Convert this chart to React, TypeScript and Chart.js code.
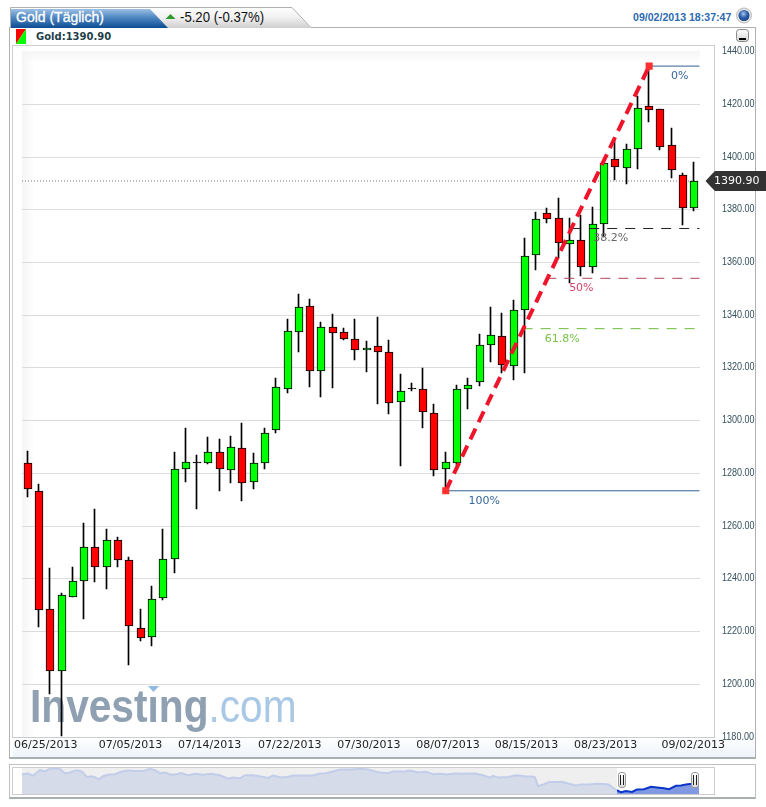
import React, { useEffect, useRef } from "react";
import { Chart, registerables } from "chart.js";

Chart.register(...registerables);

// Daily candles
const opens = [1283.8,1273.2,1228.4,1204.9,1233,1239,1251.9,1244.3,1254.6,1247,1221.2,1217.8,1232.6,1247.4,1281.5,1284.5,1283.8,1288.3,1281.1,1289.5,1276.6,1283.8,1296.6,1312.2,1333.8,1343.4,1318.7,1335.4,1333.5,1330.8,1326.7,1328.2,1325.9,1306.9,1312.3,1311.9,1302.8,1281.5,1283.8,1312.2,1314.5,1328.6,1332,1320.7,1341.8,1362.7,1378.9,1376.7,1366.9,1368.4,1358.2,1374.5,1399.1,1395.7,1402.9,1419.2,1418.1,1404.4,1393,1380.5];
const closes = [1273.9,1228,1204.9,1233.7,1239,1251.9,1244.3,1254.6,1247,1222,1217.4,1232.2,1247.4,1281.5,1284.2,1284.1,1288.3,1281.5,1289.9,1276.2,1283.8,1295.2,1312.6,1333.9,1343,1318.7,1335.4,1333.1,1331.1,1326.7,1327.4,1325.9,1306.6,1311.1,1311.9,1303.1,1281.1,1284.2,1311.9,1313.4,1328.6,1332.4,1321,1341.8,1362.3,1376.4,1376.4,1367.3,1368.4,1358.2,1374.5,1397.6,1396.1,1402.9,1418.5,1417.7,1404,1395,1380.5,1390.9];
const highs = [1288.6,1276,1244.1,1234.7,1244.5,1261,1266.5,1259,1256,1248.2,1228.5,1237.1,1258.8,1288.1,1297.1,1287,1293.7,1292.9,1294.2,1299.3,1287.6,1297.1,1316,1338.4,1347.9,1346.1,1337.5,1340.3,1335.3,1338.4,1330.3,1339.2,1330.5,1317.7,1314.4,1319.8,1306.2,1288.3,1313.6,1316,1333,1343,1340.7,1345.9,1369.2,1379,1380.7,1384.5,1376.7,1378,1381.2,1397.6,1407.1,1404.8,1423.3,1434.5,1418.1,1411.1,1393.8,1398];
const lows = [1271.1,1221.6,1196.5,1180.5,1233,1224.9,1238.9,1236.1,1244.5,1207.4,1216.5,1214.6,1232,1242.4,1276.8,1266.6,1283.5,1273.4,1276.2,1269.6,1274.1,1281.5,1295.4,1310.6,1326.2,1312.9,1308.8,1312.5,1330.6,1323.2,1318.4,1306.2,1302.6,1282.8,1311.1,1297.3,1279,1273.4,1283,1304.5,1313,1322.4,1318.2,1315.4,1318.2,1357.1,1375.1,1361.6,1352.1,1354.9,1356.1,1369.8,1391.3,1389.6,1395.5,1413.4,1402.7,1392.2,1374.2,1379.6];

const dateLabels = ["06/25/2013","07/05/2013","07/14/2013","07/22/2013","07/30/2013","08/07/2013","08/15/2013","08/23/2013","09/02/2013"];
const dateTickAt = [1.6,9.1,16.1,23.2,30.2,37.2,44.15,51.15,58.9];

const swingLow = 1273.4;
const swingHigh = 1434.5;
const swingLowAt = 37;
const swingHighAt = 55;
const lastPrice = 1390.9;
const fibNames = ["0%","38.2%","50%","61.8%","100%"];
const fibLevels = [1434.5,1372.9,1354,1334.9,1273.4];
const fibStarts = [55,48.1,45.9,43.8,37];
const fibNameAt = [57.7,51.6,49,47.3,40.4];

// Overview strip (long history)
const navDays = [0,6,11,14,18,23,28,33,38,43,48,53,58,61,65,69,73,77,81,86,93,99,106,113,121,128,133,138,143,148,154,159,166,173,181,189,198,206,211,218,223,231,239,246,251,258,264,271,279,291,298,304,311,318,329,338,346,356,366,371,383,388,396,404,411,419,424,433,441,453,461,468,471,476,486,493,497,504,510,513,516,522,527,534,540,547,554,559,567,574,582,587,592,595];
const navCloses = [1634,1650,1601,1658,1731,1699,1763,1772,1755,1650,1674,1723,1715,1674,1561,1585,1561,1512,1585,1618,1634,1690,1723,1707,1707,1763,1731,1658,1674,1626,1626,1658,1609,1642,1618,1642,1609,1528,1553,1537,1609,1609,1577,1545,1601,1561,1561,1601,1601,1601,1650,1658,1699,1747,1747,1763,1747,1682,1658,1699,1699,1723,1674,1690,1634,1642,1626,1650,1642,1650,1609,1553,1593,1553,1569,1601,1601,1577,1577,1561,1350,1399,1448,1448,1456,1407,1367,1391,1391,1407,1399,1383,1294,1253];
const navSelDays = [595,599,604,610,615,622,629,635,642,647,654,659,664,668,672,677];
const navSelCloses = [1253,1205,1237,1213,1269,1277,1334,1318,1302,1277,1358,1367,1391,1399,1399,1407];

const SANS = '"Liberation Sans", Arial, sans-serif';
const VERD = '"DejaVu Sans", Verdana, sans-serif';
const fibColors = ["#2f6193","#222222","#b8405c","#6cbb3c","#2f6193"];
const fibTextColors = ["#35689c","#666666","#d5456a","#79c14a","#35689c"];

const snapCandles = {
  id: "snapCandles",
  afterDatasetsUpdate(chart: any) {
    [0, 1].forEach((d) => {
      chart.getDatasetMeta(d).data.forEach((el: any) => {
        const left = Math.round(el.x - 4);
        el.x = d === 0 ? left + 3.5 : left + 4;
        el.y = Math.round(el.y);
        el.base = Math.round(el.base);
        if (el.y === el.base) el.base += 1;
      });
    });
  },
};

const watermark = {
  id: "watermark",
  beforeDatasetsDraw(chart: any) {
    const { ctx, chartArea } = chart;
    const bx = 30;
    const by = chartArea.bottom - 15;
    ctx.save();
    ctx.translate(bx, by);
    ctx.scale(0.865, 1);
    ctx.textBaseline = "alphabetic";
    ctx.textAlign = "left";
    ctx.font = `bold 47px ${SANS}`;
    ctx.fillStyle = "#8ea0b2";
    ctx.fillText("Investing", 0, 0);
    const w = ctx.measureText("Investing").width;
    ctx.font = `47px ${SANS}`;
    ctx.fillStyle = "#a9c8e6";
    ctx.fillText(".com", w, 0);
    ctx.restore();
    ctx.fillStyle = "#ffffff";
    ctx.fillRect(147, by - 36, 13, 9);
    ctx.fillStyle = "#8fbae2";
    ctx.beginPath();
    ctx.moveTo(148, by - 36);
    ctx.lineTo(159, by - 36);
    ctx.lineTo(153.5, by - 30);
    ctx.closePath();
    ctx.fill();
  },
};

const annotations = {
  id: "annotations",
  afterDraw(chart: any) {
    const { ctx, scales } = chart;
    ctx.save();
    // value axis labels, condensed
    ctx.textAlign = "left";
    ctx.textBaseline = "middle";
    ctx.font = `11px ${SANS}`;
    ctx.fillStyle = "#34505c";
    scales.y.ticks.forEach((t: any) => {
      ctx.save();
      ctx.translate(722, scales.y.getPixelForValue(t.value) - 0.5);
      ctx.scale(0.82, 1);
      ctx.fillText(Number(t.value).toFixed(2), 0, 0);
      ctx.restore();
    });
    ctx.font = `11px ${VERD}`;
    ctx.textAlign = "center";
    fibNames.forEach((name, i) => {
      ctx.fillStyle = fibTextColors[i];
      ctx.fillText(name, scales.x.getPixelForValue(fibNameAt[i]), scales.y.getPixelForValue(fibLevels[i]) + 10);
    });
    const py = Math.round(scales.y.getPixelForValue(lastPrice));
    ctx.fillStyle = "#333333";
    ctx.beginPath();
    ctx.moveTo(705.5, py);
    ctx.lineTo(712, py - 7);
    ctx.lineTo(715, py - 10);
    ctx.lineTo(766, py - 10);
    ctx.lineTo(766, py + 10);
    ctx.lineTo(715, py + 10);
    ctx.lineTo(712, py + 7);
    ctx.closePath();
    ctx.fill();
    ctx.fillStyle = "#ffffff";
    ctx.textAlign = "left";
    ctx.fillText(lastPrice.toFixed(2), 714, py + 0.5);
    ctx.restore();
  },
};

const box = (l: number, t: number, w: number, h: number, extra: any = {}) => ({
  position: "absolute", left: l, top: t, width: w, height: h, boxSizing: "border-box", ...extra,
}) as React.CSSProperties;

function Handle({ left }: { left: number }) {
  return (
    <div style={box(left, 772, 8, 16, { background: "linear-gradient(#fff,#ddd)", border: "1px solid #999", borderRadius: 3 })}>
      <div style={box(1, 2, 1, 10, { background: "#222" })} />
      <div style={box(4, 2, 1, 10, { background: "#222" })} />
    </div>
  );
}

export default function App() {
  const mainRef = useRef<HTMLCanvasElement>(null);
  const navRef = useRef<HTMLCanvasElement>(null);

  useEffect(() => {
    const idx = opens.map((_, i) => i);
    const lastX = 59.45;
    const main = new Chart(mainRef.current!, {
      type: "bar",
      plugins: [snapCandles, watermark, annotations],
      data: {
        datasets: [
          {
            label: "Range",
            data: idx.map((i) => ({ x: i, y: [lows[i], highs[i]] })),
            backgroundColor: "#000000",
            borderWidth: 0,
            barThickness: 1,
            grouped: false,
            order: 5,
          },
          {
            label: "Gold",
            data: idx.map((i) => ({ x: i, y: [opens[i], closes[i]] })),
            backgroundColor: idx.map((i) =>
              Math.abs(closes[i] - opens[i]) < 0.6 ? "#000000" : closes[i] >= opens[i] ? "#00ff00" : "#ff0000"
            ),
            borderColor: "#000000",
            borderWidth: 1,
            borderSkipped: false,
            barThickness: 8,
            grouped: false,
            order: 4,
          },
          {
            type: "line",
            label: "Last",
            data: [{ x: -0.5, y: lastPrice }, { x: lastX, y: lastPrice }],
            borderColor: "#777777",
            borderWidth: 1,
            borderDash: [1, 2],
            pointRadius: 0,
            order: 6,
          },
          ...fibNames.map((name, i) => ({
            type: "line",
            label: name,
            data: [{ x: fibStarts[i], y: fibLevels[i] }, { x: lastX, y: fibLevels[i] }],
            borderColor: fibColors[i],
            borderWidth: 1,
            borderDash: i === 0 || i === 4 ? [] : [10, 8],
            pointRadius: 0,
            order: 3,
          })),
          {
            type: "line",
            label: "Trend",
            data: [{ x: swingLowAt, y: swingLow }, { x: swingHighAt, y: swingHigh }],
            borderColor: "#f0142a",
            borderWidth: 4,
            borderDash: [12, 7],
            pointStyle: "rect",
            pointRadius: 5,
            pointBackgroundColor: "#ff3030",
            pointBorderWidth: 0,
            order: 1,
          },
        ] as any,
      },
      options: {
        animation: false,
        responsive: false,
        devicePixelRatio: 1,
        layout: { padding: { left: 22, top: 51.6, right: 0, bottom: 49 } },
        plugins: { legend: { display: false }, tooltip: { enabled: false } },
        scales: {
          x: {
            type: "linear",
            offset: false,
            min: -0.5,
            max: 59.5,
            grid: { display: false, drawTicks: false, offset: false },
            border: { display: false },
            afterFit: (s: any) => { s.height = 21; s.paddingLeft = 0; s.paddingRight = 0; },
            afterBuildTicks: (s: any) => { s.ticks = dateTickAt.map((value) => ({ value })); },
            ticks: {
              autoSkip: false,
              maxRotation: 0,
              padding: 2,
              color: "#222222",
              font: { family: VERD, size: 11 },
              callback: (v: any) => dateLabels[dateTickAt.indexOf(v)] ?? "",
            },
          },
          y: {
            type: "linear",
            position: "right",
            min: 1180,
            max: 1440,
            grid: {
              drawTicks: false,
              color: (c: any) => (c.tick && (c.tick.value === 1440 || c.tick.value === 1180) ? "rgba(0,0,0,0)" : "#dcdcdc"),
            },
            border: { display: false },
            afterFit: (s: any) => { s.width = 66; },
            ticks: {
              display: false,
              stepSize: 20,
            },
          },
        },
      } as any,
    });

    const nav = new Chart(navRef.current!, {
      type: "line",
      data: {
        datasets: [
          {
            label: "History",
            data: navDays.map((d, i) => ({ x: d, y: navCloses[i] })),
            borderColor: "#c2cdea",
            borderWidth: 2,
            backgroundColor: "#d5dbe9",
            fill: "start",
            pointRadius: 0,
          },
          {
            label: "Selection",
            data: navSelDays.map((d, i) => ({ x: d, y: navSelCloses[i] })),
            borderColor: "#0a35c8",
            borderWidth: 2,
            backgroundColor: "#8099e2",
            fill: "start",
            pointRadius: 0,
          },
        ],
      },
      options: {
        animation: false,
        responsive: false,
        devicePixelRatio: 1,
        plugins: { legend: { display: false }, tooltip: { enabled: false } },
        layout: { padding: 0 },
        scales: {
          x: { type: "linear", display: false, min: 0, max: 677 },
          y: { type: "linear", display: false, min: 1164, max: 1804 },
        },
      } as any,
    });

    return () => {
      main.destroy();
      nav.destroy();
    };
  }, []);

  return (
    <div style={box(0, 0, 766, 807, { background: "#fff", overflow: "hidden", fontFamily: SANS })}>
      {/* tab strip */}
      <svg style={{ position: "absolute", left: 0, top: 0 }} width={766} height={46}>
        <defs>
          <linearGradient id="blueTab" x1="0" y1="0" x2="0" y2="1">
            <stop offset="0" stopColor="#9cbfe4" />
            <stop offset="0.45" stopColor="#4f87c2" />
            <stop offset="1" stopColor="#0c4c92" />
          </linearGradient>
          <linearGradient id="grayTab" x1="0" y1="0" x2="0" y2="1">
            <stop offset="0" stopColor="#ffffff" />
            <stop offset="0.5" stopColor="#f0f0f0" />
            <stop offset="1" stopColor="#cfcfcf" />
          </linearGradient>
          <radialGradient id="globe" cx="0.45" cy="0.35" r="0.7">
            <stop offset="0" stopColor="#a9c6ec" />
            <stop offset="0.5" stopColor="#2f62ad" />
            <stop offset="1" stopColor="#123a78" />
          </radialGradient>
          <linearGradient id="btn" x1="0" y1="0" x2="0" y2="1">
            <stop offset="0" stopColor="#ffffff" />
            <stop offset="1" stopColor="#d4d4d4" />
          </linearGradient>
        </defs>
        <polygon points="10.5,28 10.5,7.5 292,7.5 311,28" fill="url(#grayTab)" />
        <polygon points="11,28 11,9 150,9 168,28" fill="url(#blueTab)" />
        <polyline points="10.5,28 10.5,7.5 292,7.5 311,27.5 755,27.5" fill="none" stroke="#b0b0b0" strokeWidth={1} />
        <polygon points="165.5,19 175.5,19 170.5,14" fill="#2e9a2e" />
        <polygon points="16,29 26,29 16,44" fill="#ff0000" />
        <polygon points="26,29 26,44 16,44" fill="#00ff00" />
        <circle cx={744} cy={15.5} r={7.5} fill="#e4e4e4" stroke="#bbbbbb" />
        <circle cx={744} cy={15.5} r={5.5} fill="url(#globe)" />
        <rect x={736.5} y={29.5} width={12} height={12} rx={3} fill="url(#btn)" stroke="#888888" />
        <rect x={739} y={38} width={7} height={2} fill="#000" />
      </svg>
      <div style={box(16, 8, 100, 19, { color: "#fff", fontSize: 14, lineHeight: "19px", whiteSpace: "nowrap", fontWeight: 400, WebkitTextStroke: "0.3px #fff" })}>Gold (Täglich)</div>
      <div style={box(180, 8, 100, 19, { color: "#111", fontSize: 14, lineHeight: "19px", whiteSpace: "nowrap", transform: "scaleX(0.94)", transformOrigin: "0 0" })}>-5.20 (-0.37%)</div>
      <div style={box(633, 9, 102, 16, { color: "#2c6bb0", fontSize: 10.6, lineHeight: "16px", fontWeight: 700, whiteSpace: "nowrap" })}>09/02/2013 18:37:47</div>
      <div style={box(36, 29, 90, 15, { color: "#1f3f4a", fontFamily: VERD, fontSize: 10, lineHeight: "15px", fontWeight: 700, whiteSpace: "nowrap" })}>Gold:1390.90</div>

      {/* main panel frame */}
      <div style={box(9, 27, 747, 732, { borderLeft: "1px solid #b0b0b0", borderRight: "1px solid #b0b0b0", borderBottom: "2px solid #a8b0b0" })} />
      <div style={box(13, 737, 742, 20, { background: "linear-gradient(#ffffff,#eef3fb)" })} />
      <div style={box(12, 45, 703, 693, { border: "1px solid #cccccc" })} />
      <div style={box(22, 51, 678, 686, { background: "linear-gradient(#f5f5f5,#ffffff 12px), #fff" })} />
      <div style={box(22, 51, 12, 686, { background: "linear-gradient(90deg,#f5f5f5,rgba(255,255,255,0))" })} />
      <canvas ref={mainRef} width={766} height={807} style={{ position: "absolute", left: 0, top: 0 }} />

      {/* overview strip */}
      <div style={box(9, 764, 747, 35, { border: "1px solid #c0c0c0", borderBottom: "2px solid #a8b0b0" })} />
      <div style={box(12, 767, 703, 28, { border: "1px solid #cccccc" })} />
      <div style={box(22, 768, 595, 26, { background: "#efefef" })} />
      <canvas ref={navRef} width={677} height={27} style={{ position: "absolute", left: 22, top: 767 }} />
      <Handle left={618} />
      <Handle left={691} />
    </div>
  );
}
